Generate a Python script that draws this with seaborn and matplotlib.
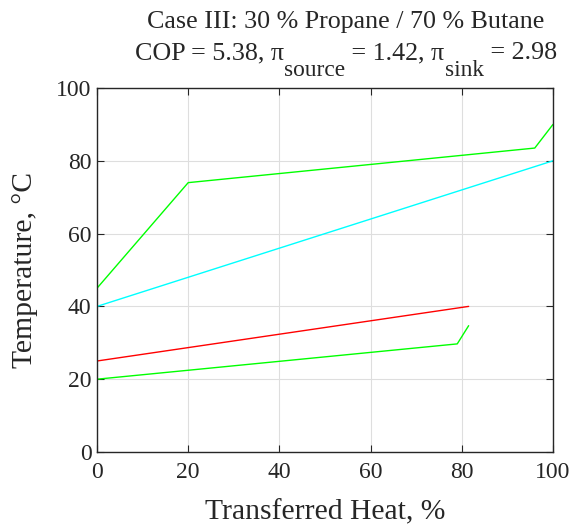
import numpy as np
import pandas as pd
import seaborn as sns
import matplotlib.pyplot as plt

# temperature profiles vs transferred heat
sink_ref_q = [0, 20, 96, 100]
sink_ref_t = [45, 74, 83.5, 90]
sink_fluid_q = [0, 100]
sink_fluid_t = [40, 80]
source_fluid_q = [0, 81.5]
source_fluid_t = [25, 40]
source_ref_q = [0, 79, 81.5]
source_ref_t = [20, 29.7, 34.7]

title_line1 = "Case III: 30 % Propane / 70 % Butane"
title_line2 = [("COP = 5.38, π", False), ("source", True), (" = 1.42, π", False),
               ("sink", True), (" = 2.98", False)]

sns.set_style("ticks")
plt.rcParams['font.family'] = ['Liberation Serif', 'DejaVu Serif']

W, H = 573, 527
fig, ax = plt.subplots(figsize=(W / 100, H / 100), dpi=100)
fig.subplots_adjust(left=97 / W, right=553 / W, bottom=1 - 452 / H, top=1 - 88 / H)

def px(x, y):
    return x / W, 1 - y / H

lines = [
    (sink_ref_q, sink_ref_t, (0, 1, 0)),
    (sink_fluid_q, sink_fluid_t, (0, 1, 1)),
    (source_fluid_q, source_fluid_t, (1, 0, 0)),
    (source_ref_q, source_ref_t, (0, 1, 0)),
]
for q, t, c in lines:
    df = pd.DataFrame({"q": q, "t": t})
    sns.lineplot(data=df, x="q", y="t", color=c, linewidth=1.0, ax=ax,
                 sort=False, estimator=None)

ax.set_xlim(0, 100)
ax.set_ylim(0, 100)
ax.set_xticks(np.arange(0, 101, 20))
ax.set_yticks(np.arange(0, 101, 20))
ax.grid(True, color="#dedede", linewidth=0.8)
ax.set_axisbelow(True)
for s in ax.spines.values():
    s.set_color("#262626")
    s.set_linewidth(1.0)
ax.tick_params(direction="in", length=5, labelsize=17, colors="#262626",
               top=True, right=True, labelcolor="#262626")
ax.tick_params(axis="x", pad=7)
ax.tick_params(axis="y", pad=4)
ax.set_xlabel("")
ax.set_ylabel("")

big = 21.3
fig.text(*px(325, 512), "Transferred Heat, %", fontsize=big, color="#262626",
         ha="center", va="center")
fig.text(*px(25, 270), "Temperature, °C", fontsize=big, color="#262626",
         ha="center", va="center", rotation=90)

# title, line 1
tsize = 18.7
tcx = 346
fig.text(*px(tcx, 28), title_line1, fontsize=tsize, ha="center", va="baseline")

# title, line 2 with lowered subscripts
fig.canvas.draw()
renderer = fig.canvas.get_renderer()
pieces = []
total = 0
for txt, sub in title_line2:
    t = fig.text(0, 0, txt, fontsize=tsize * 0.9 if sub else tsize, va="baseline")
    w = t.get_window_extent(renderer).width
    pieces.append((t, w, sub))
    total += w
x0 = tcx - total / 2
for t, w, sub in pieces:
    t.set_position(px(x0, 76 if sub else 59))
    x0 += w

fig.savefig("out.png", dpi=100)
